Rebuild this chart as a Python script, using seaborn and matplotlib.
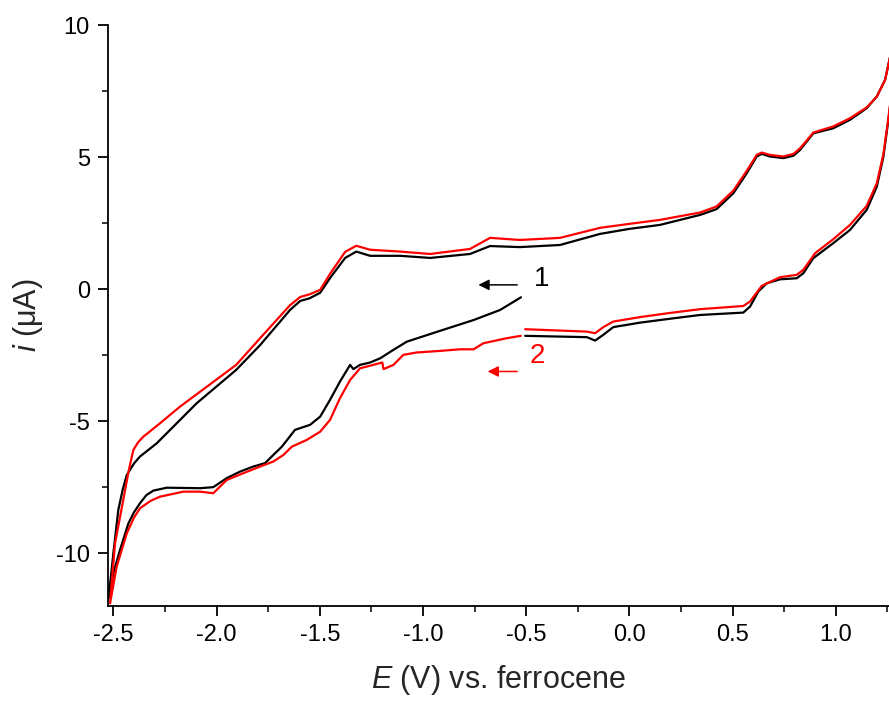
import numpy as np
import pandas as pd
import matplotlib
matplotlib.use("Agg")
import matplotlib.pyplot as plt
import seaborn as sns
from matplotlib.ticker import MultipleLocator, FormatStrFormatter

# ---- data (potential E in V vs Fc, current i in uA), in scan order ----
scan1_E = [-0.525, -0.626, -0.754, -0.917, -1.078, -1.143, -1.207, -1.256, -1.305, -1.337, -1.353,
           -1.402, -1.45, -1.498, -1.547, -1.62, -1.684, -1.725, -1.765, -1.822, -1.886, -1.951,
           -2.016, -2.080, -2.241, -2.306, -2.34, -2.371, -2.40, -2.427, -2.468, -2.50, -2.523,
           -2.50, -2.476, -2.455, -2.435, -2.40, -2.371, -2.290, -2.193, -2.096, -1.905, -1.789,
           -1.644, -1.595, -1.55, -1.498, -1.45, -1.377, -1.323, -1.256, -1.11, -0.965, -0.772,
           -0.675, -0.53, -0.336, -0.142, 0.0, 0.148, 0.343, 0.423, 0.504, 0.569, 0.617, 0.641,
           0.682, 0.746, 0.795, 0.827, 0.892, 0.988, 1.069, 1.150, 1.199, 1.239, 1.28,
           1.28, 1.255, 1.231, 1.199, 1.15, 1.069, 0.988, 0.891, 0.843, 0.811, 0.730, 0.666,
           0.625, 0.585, 0.552, 0.343, 0.2, 0.052, -0.078, -0.126, -0.166, -0.206, -0.505]
scan1_i = [-0.31, -0.79, -1.17, -1.58, -1.99, -2.30, -2.62, -2.78, -2.87, -3.03, -2.87,
           -3.50, -4.19, -4.83, -5.14, -5.33, -5.97, -6.28, -6.59, -6.72, -6.91, -7.16,
           -7.50, -7.54, -7.52, -7.63, -7.80, -8.11, -8.45, -8.87, -9.88, -10.76, -11.7,
           -10.0, -8.36, -7.60, -7.04, -6.60, -6.34, -5.84, -5.08, -4.32, -3.06, -2.12,
           -0.79, -0.45, -0.35, -0.14, 0.42, 1.18, 1.42, 1.26, 1.26, 1.18, 1.33,
           1.63, 1.59, 1.67, 2.09, 2.28, 2.43, 2.81, 3.03, 3.63, 4.39, 5.02, 5.12,
           5.02, 4.96, 5.05, 5.27, 5.90, 6.09, 6.41, 6.85, 7.29, 7.92, 9.4,
           8.0, 6.41, 5.02, 3.88, 3.0, 2.24, 1.74, 1.17, 0.60, 0.41, 0.37, 0.22,
           -0.09, -0.66, -0.89, -0.98, -1.12, -1.27, -1.44, -1.73, -1.95, -1.82, -1.77]

scan2_E = [-0.526, -0.594, -0.707, -0.755, -0.82, -0.917, -1.030, -1.095, -1.143, -1.191, -1.197,
           -1.207, -1.305, -1.353, -1.402, -1.45, -1.498, -1.563, -1.636, -1.676, -1.725, -1.789,
           -1.87, -1.951, -2.016, -2.08, -2.161, -2.274, -2.32, -2.371, -2.40, -2.435, -2.484, -2.516,
           -2.492, -2.452, -2.425, -2.403, -2.38, -2.355, -2.274, -2.177, -1.905, -1.789, -1.644,
           -1.595, -1.55, -1.498, -1.45, -1.377, -1.323, -1.256, -1.11, -0.965, -0.772, -0.675,
           -0.53, -0.336, -0.142, 0.0, 0.148, 0.343, 0.423, 0.504, 0.569, 0.617, 0.641, 0.682,
           0.746, 0.795, 0.827, 0.892, 0.988, 1.069, 1.150, 1.199, 1.239, 1.28,
           1.28, 1.255, 1.231, 1.199, 1.15, 1.069, 0.988, 0.900, 0.843, 0.811, 0.730, 0.641,
           0.585, 0.552, 0.343, 0.2, 0.052, -0.078, -0.126, -0.166, -0.206, -0.505]
scan2_i = [-1.77, -1.86, -2.05, -2.28, -2.28, -2.34, -2.40, -2.49, -2.87, -3.03, -2.78,
           -2.80, -3.0, -3.44, -4.13, -4.95, -5.40, -5.71, -5.97, -6.28, -6.53, -6.72,
           -6.97, -7.23, -7.73, -7.67, -7.67, -7.86, -8.02, -8.30, -8.65, -9.25, -10.51, -11.9,
           -9.63, -7.98, -6.85, -6.09, -5.80, -5.59, -5.08, -4.45, -2.87, -1.86, -0.61,
           -0.30, -0.2, -0.03, 0.58, 1.41, 1.64, 1.49, 1.42, 1.33, 1.52, 1.94,
           1.86, 1.94, 2.32, 2.47, 2.62, 2.90, 3.13, 3.73, 4.48, 5.08, 5.17, 5.08,
           5.02, 5.12, 5.33, 5.93, 6.16, 6.47, 6.88, 7.29, 7.92, 9.4,
           8.05, 6.47, 5.12, 4.01, 3.15, 2.43, 1.89, 1.36, 0.73, 0.54, 0.45, 0.12,
           -0.47, -0.64, -0.76, -0.9, -1.06, -1.23, -1.44, -1.67, -1.61, -1.52]

scan_labels = ["1", "2"]
scan_colors = ["#000000", "#ff0000"]

# ---- build table ----
df = pd.concat([
    pd.DataFrame({"E": scan1_E, "i": scan1_i, "scan": scan_labels[0]}),
    pd.DataFrame({"E": scan2_E, "i": scan2_i, "scan": scan_labels[1]}),
], ignore_index=True)

sns.set_style("ticks")
plt.rcParams["font.family"] = ["Liberation Sans", "DejaVu Sans"]
plt.rcParams["mathtext.fontset"] = "custom"
plt.rcParams["mathtext.rm"] = "Liberation Sans"
plt.rcParams["mathtext.it"] = "Liberation Sans:italic"
plt.rcParams["axes.unicode_minus"] = False

fig = plt.figure(figsize=(8.89, 7.02), dpi=100)
ax = fig.add_axes([108 / 889, 96 / 702, 781 / 889, 581 / 702])

sns.lineplot(data=df, x="E", y="i", hue="scan", hue_order=scan_labels,
             palette=scan_colors, sort=False, estimator=None, legend=False,
             linewidth=1.6, ax=ax)

ax.set_xlim(-2.526, 1.258)
ax.set_ylim(-12, 10)
ax.xaxis.set_major_locator(MultipleLocator(0.5))
ax.xaxis.set_minor_locator(MultipleLocator(0.25))
ax.yaxis.set_major_locator(MultipleLocator(5))
ax.yaxis.set_minor_locator(MultipleLocator(2.5))
ax.xaxis.set_major_formatter(FormatStrFormatter("%.1f"))
ax.yaxis.set_major_formatter(FormatStrFormatter("%d"))

for s in ["top", "right"]:
    ax.spines[s].set_visible(False)
for s in ["left", "bottom"]:
    ax.spines[s].set_linewidth(1.3)
    ax.spines[s].set_color("black")

ax.tick_params(which="major", direction="out", length=7, width=1.3, labelsize=17, pad=6, colors="black")
ax.tick_params(which="minor", direction="out", length=4, width=1.3)

ax.set_xlabel(r"$\mathit{E}$ (V) vs. ferrocene", fontsize=22, labelpad=12)
ax.set_ylabel(r"$\mathit{i}$ ($\mathrm{\mu}$A)", fontsize=22, labelpad=8)

# annotations: scan numbers with direction arrows
ax.annotate("", xy=(-0.745, 0.16), xytext=(-0.53, 0.16),
            arrowprops=dict(arrowstyle="-|>", color="black", lw=1.1, mutation_scale=16))
ax.text(-0.425, 0.37, "1", color="black", fontsize=20, ha="center", va="center")
ax.annotate("", xy=(-0.70, -3.12), xytext=(-0.53, -3.12),
            arrowprops=dict(arrowstyle="-|>", color="red", lw=1.1, mutation_scale=16))
ax.text(-0.446, -2.53, "2", color="red", fontsize=20, ha="center", va="center")

fig.savefig("out.png", dpi=100)
